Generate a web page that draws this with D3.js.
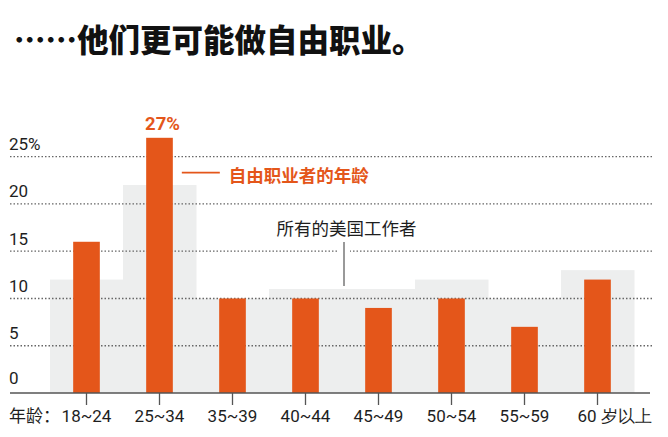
<!DOCTYPE html>
<html><head><meta charset="utf-8">
<script src="https://cdn.jsdelivr.net/npm/d3@7"></script>
<style>
html,body{margin:0;padding:0;background:#fff;}
svg{display:block;}
</style></head>
<body>
<svg id="chart" width="668" height="437"></svg>
<script>
const categories = ["18~24","25~34","35~39","40~44","45~49","50~54","55~59","60 岁以上"];
const freelancers = [16,27,10,10,9,10,7,12];
const allWorkers = [12,22,10,11,11,12,10,13];
const yTicks = [0,5,10,15,20,25];
const titleText = "……他们更可能做自由职业。";
const axisPrefix = "年龄：";
const legendFreelance = "自由职业者的年龄";
const legendAll = "所有的美国工作者";

const ORANGE = "#E4561A", GRAY = "#EDEEEE", TEXT = "#1e1e1e";
const numFont = "Roboto, 'Liberation Sans', sans-serif";
const cjkFont = "'Noto Sans CJK SC', 'Noto Sans', sans-serif";

const svg = d3.select("#chart");
const x = d3.scaleBand().domain(categories).range([50, 634]).paddingInner(0).paddingOuter(0);
const y = d3.scaleLinear().domain([0, 25]).range([393, 156.7]);

// title
svg.append("text").attr("x", 14).attr("y", 51.5)
  .attr("font-family", cjkFont).attr("font-weight", 900).attr("font-size", 31.5)
  .attr("fill", "#111").text(titleText);

// gray bars (all workers)
svg.append("g").selectAll("rect").data(allWorkers).join("rect")
  .attr("x", (d,i) => x(categories[i]))
  .attr("width", x.bandwidth() + 0.5)
  .attr("y", d => y(d))
  .attr("height", d => y(0) - y(d))
  .attr("fill", GRAY);

// gridlines
svg.append("g").selectAll("line").data(yTicks.filter(d => d > 0)).join("line")
  .attr("x1", 10).attr("x2", 652)
  .attr("y1", d => y(d)).attr("y2", d => y(d))
  .attr("stroke", "#666").attr("stroke-width", 1.3)
  .attr("stroke-dasharray", "1.5,2");

// y labels
svg.append("g").selectAll("text").data(yTicks).join("text")
  .attr("x", 9).attr("y", d => y(d) - (d === 0 ? 9 : 6.5))
  .attr("font-family", numFont).attr("font-size", 17).attr("fill", TEXT)
  .text(d => d === 25 ? d + "%" : d);

// annotation for all workers
const px = x(categories[4]) + 2;
svg.append("line").attr("x1", px).attr("x2", px).attr("y1", 243).attr("y2", 286)
  .attr("stroke", "#fff").attr("stroke-width", 12);
svg.append("line").attr("x1", px).attr("x2", px).attr("y1", 242).attr("y2", 286)
  .attr("stroke", "#777").attr("stroke-width", 1.5);
svg.append("text").attr("x", px + 2.5).attr("y", 234.5).attr("text-anchor", "middle")
  .attr("font-family", cjkFont).attr("font-size", 17.5).attr("fill", TEXT)
  .text(legendAll);

// orange bars
const bw = x.bandwidth() * 0.365;
svg.append("g").selectAll("rect").data(freelancers).join("rect")
  .attr("x", (d,i) => x(categories[i]) + x.bandwidth()/2 - bw/2)
  .attr("width", bw)
  .attr("y", d => y(d))
  .attr("height", d => y(0) - y(d))
  .attr("fill", ORANGE);

// 27% label
const maxI = freelancers.indexOf(d3.max(freelancers));
svg.append("text")
  .attr("x", x(categories[maxI]) + x.bandwidth()/2 + 3)
  .attr("y", y(freelancers[maxI]) - 8)
  .attr("text-anchor", "middle")
  .attr("font-family", numFont).attr("font-weight", 700).attr("font-size", 18.5)
  .attr("fill", ORANGE).text(freelancers[maxI] + "%");

// orange legend
const lx = x(categories[maxI]) + x.bandwidth()/2 + bw/2 + 9;
svg.append("line").attr("x1", lx).attr("x2", lx + 38).attr("y1", 172.7).attr("y2", 172.7)
  .attr("stroke", ORANGE).attr("stroke-width", 1.8);
svg.append("text").attr("x", lx + 47).attr("y", 182)
  .attr("font-family", cjkFont).attr("font-weight", 700).attr("font-size", 17.5)
  .attr("fill", ORANGE).text(legendFreelance);

// x axis
svg.append("line").attr("x1", 10).attr("x2", 650).attr("y1", y(0)).attr("y2", y(0))
  .attr("stroke", "#555").attr("stroke-width", 1.3);
svg.append("g").selectAll("line").data(categories).join("line")
  .attr("x1", d => x(d) + x.bandwidth()/2).attr("x2", d => x(d) + x.bandwidth()/2)
  .attr("y1", y(0)).attr("y2", y(0) + 12)
  .attr("stroke", "#555").attr("stroke-width", 1.3);
svg.append("g").selectAll("text").data(categories).join("text")
  .attr("x", (d,i) => x(d) + x.bandwidth()/2 + (i === categories.length - 1 ? -20 : 0))
  .attr("y", 421.5)
  .attr("text-anchor", (d,i) => i === categories.length - 1 ? "start" : "middle")
  .attr("font-family", numFont).attr("font-size", 17).attr("fill", TEXT)
  .text(d => d);
svg.append("text").attr("x", 9).attr("y", 421.5)
  .attr("font-family", cjkFont).attr("font-size", 17).attr("fill", TEXT)
  .text(axisPrefix);
</script>
</body></html>
